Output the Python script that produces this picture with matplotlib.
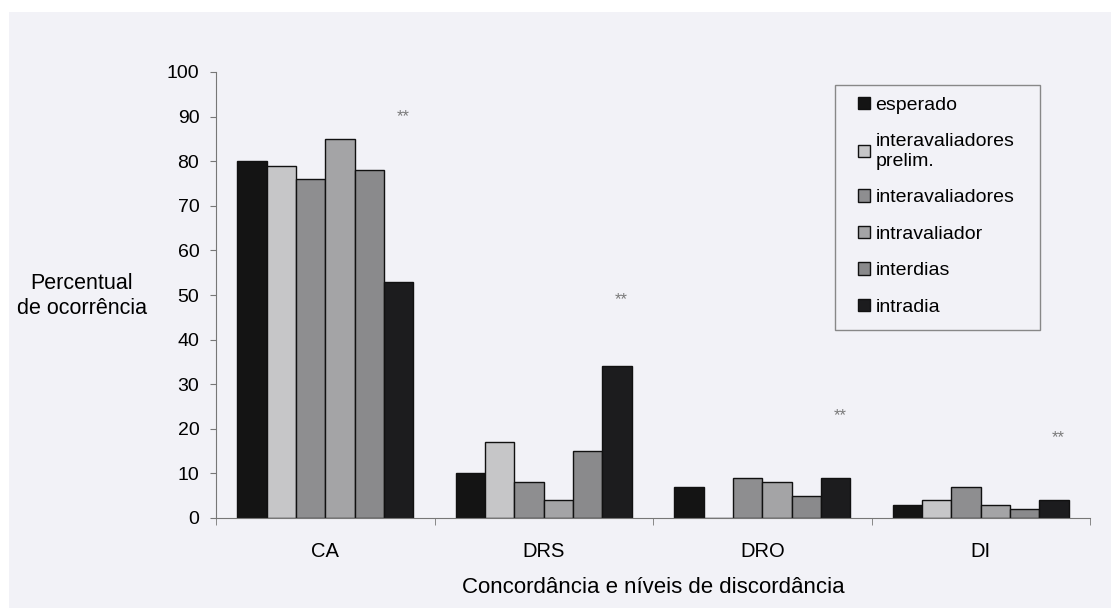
import matplotlib
matplotlib.use("Agg")
import matplotlib.pyplot as plt
import numpy as np
from matplotlib.patches import Rectangle

plt.rcParams["font.family"] = ["Liberation Sans", "DejaVu Sans"]

categories = ["CA", "DRS", "DRO", "DI"]
series_names = ["esperado", "interavaliadores\nprelim.", "interavaliadores",
                "intravaliador", "interdias", "intradia"]
esperado = [80, 10, 7, 3]
inter_prelim = [79, 17, 0, 4]
interavaliadores = [76, 8, 9, 7]
intravaliador = [85, 4, 8, 3]
interdias = [78, 15, 5, 2]
intradia = [53, 34, 9, 4]
star_heights = [90, 49, 23, 18]

values = [esperado, inter_prelim, interavaliadores, intravaliador, interdias, intradia]
colors = ["#141414", "#c6c6c8", "#8e8e90", "#a4a4a6", "#8a8a8c", "#1c1c1e"]
BG = "#f2f2f7"
W, H = 1111, 608

fig = plt.figure(figsize=(W / 100, H / 100), dpi=100)
fig.patch.set_facecolor("white")
fig.patches.append(Rectangle((9 / W, 0), 1, 1 - 12 / H, transform=fig.transFigure,
                             facecolor=BG, edgecolor="none", zorder=-10))
# legend box drawn separately (below the axes layer) so its padding matches the original
fig.patches.append(Rectangle((835 / W, 1 - 330 / H), 205 / W, 245 / H,
                             transform=fig.transFigure, facecolor=BG,
                             edgecolor="#888888", linewidth=1.0, zorder=-5))

ax = fig.add_axes([216 / W, 1 - 518 / H, 874 / W, 446 / H])
ax.patch.set_alpha(0)

x = np.arange(len(categories))
n = len(values)
width = 0.134
for i, (vals, name, col) in enumerate(zip(values, series_names, colors)):
    pos = x + (i - (n - 1) / 2) * width
    ax.bar(pos, vals, width=width, color=col, edgecolor="#111111", linewidth=1.0,
           label=name)

# significance markers above the intradia bars
star_x = x + (n - 1 - (n - 1) / 2) * width + 0.02
for sx, sy in zip(star_x, star_heights):
    ax.text(sx, sy, "**", ha="center", va="center", fontsize=12, color="#7a7a7a")

ax.set_xlim(-0.5, 3.5)
ax.set_ylim(0, 100)
ax.set_yticks(np.arange(0, 101, 10))
ax.set_xticks(x)
ax.set_xticklabels(categories)
ax.set_xticks(np.arange(-0.5, 3.6, 1), minor=True)
ax.tick_params(axis="x", which="major", length=0, pad=17, labelsize=14.5)
ax.tick_params(axis="x", which="minor", length=5, color="#777777", direction="out")
ax.tick_params(axis="y", length=4, color="#777777", labelsize=14, pad=8)
for s in ["top", "right"]:
    ax.spines[s].set_visible(False)
for s in ["left", "bottom"]:
    ax.spines[s].set_color("#777777")

ax.set_xlabel("Concordância e níveis de discordância", fontsize=16, labelpad=12)
fig.text(82 / W, 1 - 296 / H, "Percentual\nde ocorrência", ha="center", va="center",
         fontsize=15.5, linespacing=1.25)

leg = ax.legend(loc="upper left", bbox_to_anchor=(852 / W, 1 - 91 / H),
                bbox_transform=fig.transFigure, frameon=False,
                fontsize=14, handlelength=0.6, handleheight=0.6, handletextpad=0.3,
                labelspacing=1.0, borderpad=0.3, borderaxespad=0)

fig.savefig("out.png", dpi=100, facecolor=fig.get_facecolor())
